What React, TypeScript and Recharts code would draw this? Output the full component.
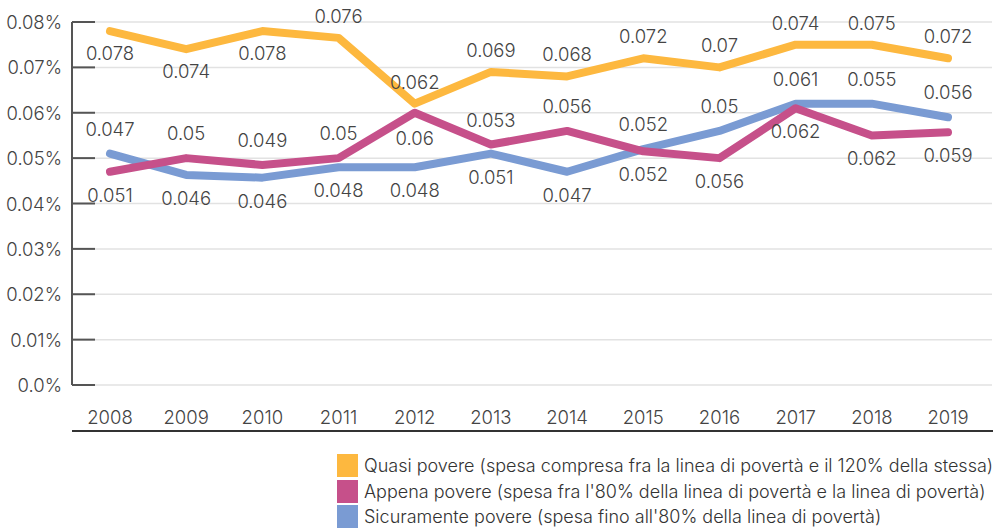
import React from 'react';
import { LineChart, Line, XAxis, YAxis, CartesianGrid, LabelList } from 'recharts';

const years = ['2008', '2009', '2010', '2011', '2012', '2013', '2014', '2015', '2016', '2017', '2018', '2019'];
const quasi = [0.078, 0.074, 0.078, 0.0765, 0.062, 0.069, 0.068, 0.072, 0.07, 0.075, 0.075, 0.072];
const appena = [0.047, 0.05, 0.0485, 0.05, 0.06, 0.053, 0.056, 0.0515, 0.05, 0.061, 0.055, 0.0557];
const sicuramente = [0.051, 0.0463, 0.0457, 0.048, 0.048, 0.051, 0.047, 0.052, 0.056, 0.062, 0.062, 0.059];

const quasiLabels = ['0.078', '0.074', '0.078', '0.076', '0.062', '0.069', '0.068', '0.072', '0.07', '0.074', '0.075', '0.072'];
const appenaLabels = ['0.047', '0.05', '0.049', '0.05', '0.06', '0.053', '0.056', '0.052', '0.05', '0.061', '0.055', '0.056'];
const sicuramenteLabels = ['0.051', '0.046', '0.046', '0.048', '0.048', '0.051', '0.047', '0.052', '0.056', '0.062', '0.062', '0.059'];
const quasiLabelBelow = [true, true, true, false, false, false, false, false, false, false, false, false];

const yTicks = [0, 0.01, 0.02, 0.03, 0.04, 0.05, 0.06, 0.07, 0.08];

const COLORS = { quasi: '#FDB83F', appena: '#C6508A', sicuramente: '#7A9BD3' };
const FONT = 'Inter, "Open Sans", sans-serif';
const TEXT = '#444';

const legendItems = [
  { color: COLORS.quasi, text: 'Quasi povere (spesa compresa fra la linea di povertà e il 120% della stessa)' },
  { color: COLORS.appena, text: "Appena povere (spesa fra l'80% della linea di povertà e la linea di povertà)" },
  { color: COLORS.sicuramente, text: "Sicuramente povere (spesa fino all'80% della linea di povertà)" },
];

const data = years.map((y, i) => {
  const nearTop = quasi[i] - appena[i] < 0.005;
  return {
    year: y,
    quasi: quasi[i],
    appena: appena[i],
    sicuramente: sicuramente[i],
    appenaAnchor: nearTop ? appena[i] : Math.max(appena[i], sicuramente[i]),
    appenaBelow: nearTop,
    sicAnchor: Math.min(appena[i], sicuramente[i]),
  };
});

const fmtY = (v: number) => (v === 0 ? '0.0%' : `${v.toFixed(2)}%`);

const YTick = (props: any) => {
  const { x, y, payload } = props;
  return (
    <g>
      <line x1={x} x2={x + 23} y1={y} y2={y} stroke="#555" strokeWidth={2} />
      <text x={x - 10} y={y} textAnchor="end" dominantBaseline="central" fontSize={18.5} fill={TEXT} fontFamily={FONT} fontWeight={300}>
        {fmtY(payload.value)}
      </text>
    </g>
  );
};

const makeLabel = (labels: string[], below: (i: number) => boolean, off: number) => (props: any) => {
  const { x, y, index } = props;
  if (x == null || y == null || index == null) return null;
  const b = below(index);
  return (
    <text
      x={x}
      y={b ? y + off : y - off}
      textAnchor="middle"
      dominantBaseline="central"
      fontSize={18.5}
      fill={TEXT}
      fontFamily={FONT}
      fontWeight={300}
    >
      {labels[index]}
    </text>
  );
};

export default function App() {
  return (
    <div style={{ position: 'absolute', left: 0, top: 0, width: 997, height: 529, background: '#fff', fontFamily: FONT }}>
      <LineChart width={997} height={440} data={data} margin={{ top: 22, right: 5, left: 0, bottom: 0 }}>
        <CartesianGrid horizontal vertical={false} stroke="#e2e2e2" strokeWidth={1.5} />
        <XAxis
          dataKey="year"
          axisLine={false}
          tickLine={false}
          tickSize={0}
          tickMargin={26}
          height={55}
          padding={{ left: 38, right: 44 }}
          tick={{ fontSize: 18.5, fill: TEXT, fontFamily: FONT, fontWeight: 300 }}
          interval={0}
        />
        <YAxis
          domain={[0, 0.08]}
          ticks={yTicks}
          width={72}
          axisLine={{ stroke: '#555', strokeWidth: 2 }}
          tickLine={false}
          tickSize={0}
          tickMargin={0}
          tick={<YTick />}
          allowDataOverflow
        />
        <Line
          dataKey="sicuramente"
          stroke={COLORS.sicuramente}
          strokeWidth={8}
          strokeLinecap="round"
          strokeLinejoin="round"
          dot={false}
          activeDot={false}
          isAnimationActive={false}
        />
        <Line
          dataKey="appena"
          stroke={COLORS.appena}
          strokeWidth={8}
          strokeLinecap="round"
          strokeLinejoin="round"
          dot={false}
          activeDot={false}
          isAnimationActive={false}
        />
        <Line
          dataKey="quasi"
          stroke={COLORS.quasi}
          strokeWidth={8}
          strokeLinecap="round"
          strokeLinejoin="round"
          dot={false}
          activeDot={false}
          isAnimationActive={false}
        >
          <LabelList dataKey="quasi" content={makeLabel(quasiLabels, (i) => quasiLabelBelow[i], 22)} />
        </Line>
        <Line
          dataKey="appenaAnchor"
          stroke="none"
          dot={false}
          activeDot={false}
          isAnimationActive={false}
        >
          <LabelList dataKey="appenaAnchor" content={makeLabel(appenaLabels, (i) => data[i].appenaBelow, 25)} />
        </Line>
        <Line
          dataKey="sicAnchor"
          stroke="none"
          dot={false}
          activeDot={false}
          isAnimationActive={false}
        >
          <LabelList dataKey="sicAnchor" content={makeLabel(sicuramenteLabels, () => true, 23)} />
        </Line>
      </LineChart>
      <div style={{ position: 'absolute', left: 72, top: 430, width: 921, height: 2, background: '#333' }} />
      <div style={{ position: 'absolute', left: 337, top: 453 }}>
        {legendItems.map((it) => (
          <div key={it.text} style={{ display: 'flex', alignItems: 'center', height: 25.5 }}>
            <div style={{ width: 21, height: 23, background: it.color, marginRight: 6 }} />
            <span style={{ fontSize: 18, color: '#333', fontFamily: FONT, fontWeight: 300, whiteSpace: 'nowrap' }}>{it.text}</span>
          </div>
        ))}
      </div>
    </div>
  );
}
